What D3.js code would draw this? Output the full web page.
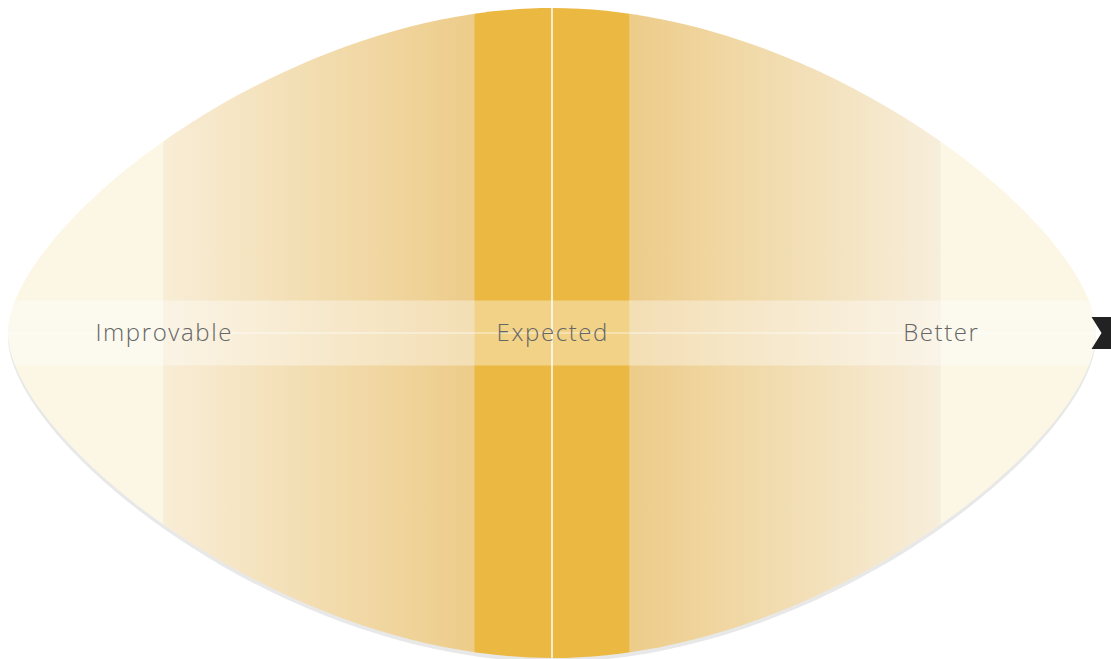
<!DOCTYPE html>
<html>
<head>
<meta charset="utf-8">
<script src="https://cdn.jsdelivr.net/npm/d3@7/dist/d3.min.js"></script>
<style>
  html, body { margin: 0; padding: 0; background: #ffffff; }
  svg { display: block; }
</style>
</head>
<body>
<svg id="chart" width="1111" height="659"></svg>
<script>
// ---- data ----
const categories = ["Improvable", "Expected", "Better"];
const categoryValues = [-1, 0, 1];
const expectedBand = [-0.2, 0.2];
const scoreValue = 1.44;
const domainLimit = 1.4;

// ---- layout ----
const W = 1111, H = 659;
const svg = d3.select("#chart");
const x = d3.scaleLinear().domain([-domainLimit, domainLimit]).range([8, 1096]);
const y = d3.scaleLinear().domain([-1, 1]).range([658, 8]);

const x0 = x(0), yc = y(0);
const xL = x(-domainLimit), xR = x(domainLimit);
const yT = y(1), yB = y(-1);
const a = 0.32, b = 0.5;
function lensPath() {
  const p = d3.path();
  const hw = x0 - xL, hh = yc - yT;
  p.moveTo(xL, yc);
  p.bezierCurveTo(xL, yc - a * hh, x0 - b * hw, yT, x0, yT);
  p.bezierCurveTo(x0 + b * hw, yT, xR, yc - a * hh, xR, yc);
  p.bezierCurveTo(xR, yc + a * hh, x0 + b * hw, yB, x0, yB);
  p.bezierCurveTo(x0 - b * hw, yB, xL, yc + a * hh, xL, yc);
  p.closePath();
  return p.toString();
}

const defs = svg.append("defs");
defs.append("clipPath").attr("id", "lensClip").append("path").attr("d", lensPath());

const gl = defs.append("linearGradient").attr("id", "gradL")
  .attr("gradientUnits", "userSpaceOnUse")
  .attr("x1", x(categoryValues[0])).attr("x2", x(expectedBand[0])).attr("y1", 0).attr("y2", 0);
gl.append("stop").attr("offset", "0%").attr("stop-color", "#f8edd6");
gl.append("stop").attr("offset", "100%").attr("stop-color", "#edcc89");

const gr = defs.append("linearGradient").attr("id", "gradR")
  .attr("gradientUnits", "userSpaceOnUse")
  .attr("x1", x(expectedBand[1])).attr("x2", x(categoryValues[2])).attr("y1", 0).attr("y2", 0);
gr.append("stop").attr("offset", "0%").attr("stop-color", "#edcc89");
gr.append("stop").attr("offset", "100%").attr("stop-color", "#f7eedb");

// shadow
svg.append("path").attr("d", lensPath())
  .attr("transform", "translate(0,4)")
  .attr("fill", "#e8e8e8");

const g = svg.append("g").attr("clip-path", "url(#lensClip)");

// bands
const bands = [
  { from: -domainLimit - 0.1, to: categoryValues[0], fill: "#fbf7e4" },
  { from: categoryValues[0], to: expectedBand[0], fill: "url(#gradL)" },
  { from: expectedBand[0], to: expectedBand[1], fill: "#ebb842" },
  { from: expectedBand[1], to: categoryValues[2], fill: "url(#gradR)" },
  { from: categoryValues[2], to: domainLimit + 0.1, fill: "#fbf7e4" }
];
g.selectAll("rect.band").data(bands).join("rect")
  .attr("class", "band")
  .attr("x", d => x(d.from))
  .attr("width", d => x(d.to) - x(d.from))
  .attr("y", 0).attr("height", H)
  .attr("fill", d => d.fill);

// horizontal highlight band
g.append("rect")
  .attr("x", 0).attr("width", W)
  .attr("y", y(0.1)).attr("height", y(-0.1) - y(0.1))
  .attr("fill", "#ffffff").attr("fill-opacity", 0.37);

// center lines
g.append("line")
  .attr("x1", 0).attr("x2", W).attr("y1", yc).attr("y2", yc)
  .attr("stroke", "#ffffff").attr("stroke-opacity", 0.7).attr("stroke-width", 1);
g.append("line")
  .attr("x1", x0).attr("x2", x0).attr("y1", 0).attr("y2", H)
  .attr("stroke", "#ffffff").attr("stroke-width", 1.5);

// labels
const ls = 1.6;
svg.selectAll("text.cat").data(categories).join("text")
  .attr("class", "cat")
  .attr("x", (d, i) => x(categoryValues[i]) + ls / 2)
  .attr("y", yc + 8)
  .attr("text-anchor", "middle")
  .attr("font-family", "'Open Sans', Lato, sans-serif")
  .attr("font-weight", 300)
  .attr("font-size", 24)
  .attr("letter-spacing", ls)
  .attr("fill", "#666666")
  .text(d => d);

// score marker (hourglass)
const mx = x(scoreValue), mh = 16, mw = 20, waist = 10;
const mp = d3.path();
mp.moveTo(mx - mw, yc - mh);
mp.lineTo(mx + mw, yc - mh);
mp.lineTo(mx + waist, yc);
mp.lineTo(mx + mw, yc + mh);
mp.lineTo(mx - mw, yc + mh);
mp.lineTo(mx - waist, yc);
mp.closePath();
svg.append("path").attr("d", mp.toString()).attr("fill", "#222222");
</script>
</body>
</html>
